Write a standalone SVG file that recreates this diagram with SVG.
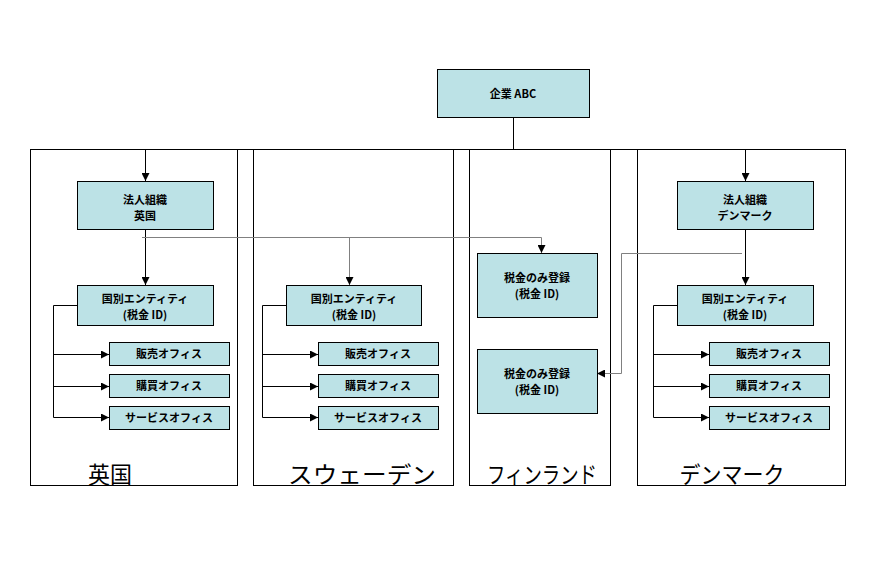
<svg xmlns="http://www.w3.org/2000/svg" width="877" height="572" viewBox="0 0 877 572">
<style>
.box{fill:#bce2e6;stroke:#000;stroke-width:1}
.cont{fill:none;stroke:#000;stroke-width:1}
.t{font-family:"Noto Sans CJK JP","Liberation Sans",sans-serif;font-size:11px;font-weight:bold;text-anchor:middle;fill:#000}
.big{font-family:"Noto Sans CJK JP","Liberation Sans",sans-serif;font-size:23px;text-anchor:middle;fill:#000}
.c{fill:none;stroke:#000;stroke-width:1}
.g{fill:none;stroke:#808080;stroke-width:1}
</style>
<defs>
<marker id="a" viewBox="0 0 10 10" refX="10" refY="5" markerWidth="8" markerHeight="8" markerUnits="userSpaceOnUse" orient="auto"><path d="M0,0 L10,5 L0,10 z" fill="#000"/></marker>
</defs>
<rect width="877" height="572" fill="#fff"/>
<g id="containers">
<rect class="cont" x="30.5" y="149.5" width="207" height="336"/>
<rect class="cont" x="253.5" y="149.5" width="200" height="336"/>
<rect class="cont" x="469.5" y="149.5" width="141" height="336"/>
<rect class="cont" x="637.5" y="149.5" width="208" height="336"/>
<text class="big" x="110" y="483" textLength="44" lengthAdjust="spacingAndGlyphs">英国</text>
<text class="big" x="362" y="483" textLength="148" lengthAdjust="spacingAndGlyphs">スウェーデン</text>
<text class="big" x="542" y="483" textLength="110" lengthAdjust="spacingAndGlyphs">フィンランド</text>
<text class="big" x="732" y="483" textLength="105" lengthAdjust="spacingAndGlyphs">デンマーク</text>
</g>
<g id="connectors">
<path class="c" d="M513.5,117 V149.5 M145.5,149.5 H745.5"/>
<path class="c" d="M145.5,149.5 V181" marker-end="url(#a)"/>
<path class="c" d="M745.5,149.5 V181" marker-end="url(#a)"/>
<path class="c" d="M145.5,229 V285" marker-end="url(#a)"/>
<path class="c" d="M745.5,229 V285" marker-end="url(#a)"/>
<path class="g" d="M142,237.5 H541.5 V253" marker-end="url(#a)"/>
<path class="g" d="M349.5,237.5 V285" marker-end="url(#a)"/>
<path class="g" d="M742,253.5 H621.5 V373.5 H597" marker-end="url(#a)"/>
<path class="c" d="M77,305.5 H53.5 V417.5"/>
<path class="c" d="M53.5,354.5 H109" marker-end="url(#a)"/>
<path class="c" d="M53.5,386.5 H109" marker-end="url(#a)"/>
<path class="c" d="M53.5,417.5 H109" marker-end="url(#a)"/>
<path class="c" d="M286,305.5 H262.5 V417.5"/>
<path class="c" d="M262.5,354.5 H318" marker-end="url(#a)"/>
<path class="c" d="M262.5,386.5 H318" marker-end="url(#a)"/>
<path class="c" d="M262.5,417.5 H318" marker-end="url(#a)"/>
<path class="c" d="M677,305.5 H653.5 V417.5"/>
<path class="c" d="M653.5,354.5 H709" marker-end="url(#a)"/>
<path class="c" d="M653.5,386.5 H709" marker-end="url(#a)"/>
<path class="c" d="M653.5,417.5 H709" marker-end="url(#a)"/>
</g>
<g id="abc"><rect class="box" x="437.5" y="69.5" width="152" height="48"/><text class="t" x="513" y="98">企業 ABC</text></g>
<g id="uk-legal"><rect class="box" x="77.5" y="181.5" width="136" height="48"/><text class="t" x="145" y="204">法人組織</text><text class="t" x="145" y="220">英国</text></g>
<g id="dk-legal"><rect class="box" x="677.5" y="181.5" width="136" height="48"/><text class="t" x="745" y="204">法人組織</text><text class="t" x="745" y="220">デンマーク</text></g>
<g id="uk-entity"><rect class="box" x="77.5" y="285.5" width="136" height="40"/><text class="t" x="145" y="303">国別エンティティ</text><text class="t" x="145" y="319">(税金 ID)</text></g>
<g id="se-entity"><rect class="box" x="286.5" y="285.5" width="135" height="40"/><text class="t" x="354" y="303">国別エンティティ</text><text class="t" x="354" y="319">(税金 ID)</text></g>
<g id="dk-entity"><rect class="box" x="677.5" y="285.5" width="136" height="40"/><text class="t" x="745" y="303">国別エンティティ</text><text class="t" x="745" y="319">(税金 ID)</text></g>
<g id="fi-tax1"><rect class="box" x="477.5" y="253.5" width="120" height="64"/><text class="t" x="537" y="282">税金のみ登録</text><text class="t" x="537" y="298">(税金 ID)</text></g>
<g id="fi-tax2"><rect class="box" x="477.5" y="349.5" width="120" height="64"/><text class="t" x="537" y="378">税金のみ登録</text><text class="t" x="537" y="394">(税金 ID)</text></g>
<g id="uk-sales"><rect class="box" x="109.5" y="342.5" width="120" height="23"/><text class="t" x="169" y="358">販売オフィス</text></g>
<g id="uk-buy"><rect class="box" x="109.5" y="374.5" width="120" height="23"/><text class="t" x="169" y="390">購買オフィス</text></g>
<g id="uk-svc"><rect class="box" x="109.5" y="406.5" width="120" height="23"/><text class="t" x="169" y="422">サービスオフィス</text></g>
<g id="se-sales"><rect class="box" x="318.5" y="342.5" width="120" height="23"/><text class="t" x="378" y="358">販売オフィス</text></g>
<g id="se-buy"><rect class="box" x="318.5" y="374.5" width="120" height="23"/><text class="t" x="378" y="390">購買オフィス</text></g>
<g id="se-svc"><rect class="box" x="318.5" y="406.5" width="120" height="23"/><text class="t" x="378" y="422">サービスオフィス</text></g>
<g id="dk-sales"><rect class="box" x="709.5" y="342.5" width="120" height="23"/><text class="t" x="769" y="358">販売オフィス</text></g>
<g id="dk-buy"><rect class="box" x="709.5" y="374.5" width="120" height="23"/><text class="t" x="769" y="390">購買オフィス</text></g>
<g id="dk-svc"><rect class="box" x="709.5" y="406.5" width="120" height="23"/><text class="t" x="769" y="422">サービスオフィス</text></g>
</svg>
